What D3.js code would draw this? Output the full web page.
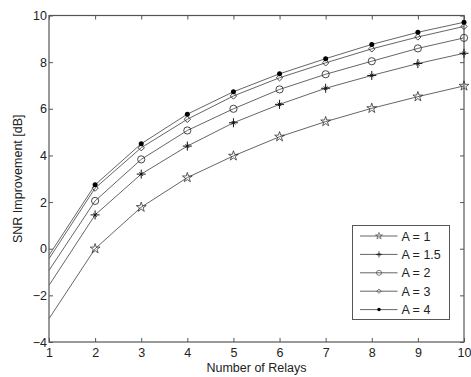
<!DOCTYPE html>
<html>
<head>
<meta charset="utf-8">
<script src="https://cdn.jsdelivr.net/npm/d3@7"></script>
<style>
  body { margin: 0; background: #fff; }
  svg { display: block; font-family: "Liberation Sans", Arial, sans-serif; }
</style>
</head>
<body>
<svg id="chart" width="471" height="377"></svg>
<script>
// number of relays on the x axis
const relays = [1, 2, 3, 4, 5, 6, 7, 8, 9, 10];

// SNR improvement [dB] for each value of A
const snrA1 = [-3.0, 0.0, 1.78, 3.05, 3.98, 4.8, 5.45, 6.02, 6.52, 6.98];
const snrA15 = [-1.57, 1.45, 3.2, 4.4, 5.4, 6.19, 6.88, 7.43, 7.94, 8.38];
const snrA2 = [-0.93, 2.05, 3.83, 5.07, 6.0, 6.83, 7.48, 8.04, 8.59, 9.04];
const snrA3 = [-0.43, 2.6, 4.33, 5.55, 6.55, 7.33, 7.97, 8.57, 9.08, 9.53];
const snrA4 = [-0.28, 2.74, 4.5, 5.77, 6.73, 7.5, 8.15, 8.76, 9.28, 9.71];

const seriesNames = ['A = 1', 'A = 1.5', 'A = 2', 'A = 3', 'A = 4'];
const seriesValues = [snrA1, snrA15, snrA2, snrA3, snrA4];
const markerKinds = ['star', 'plus', 'circle', 'diamond', 'dot'];

const xTicks = [1, 2, 3, 4, 5, 6, 7, 8, 9, 10];
const yTicks = [-4, -2, 0, 2, 4, 6, 8, 10];

const margin = { top: 15.5, right: 7, bottom: 35, left: 49 };
const width = 471;
const height = 377;
const plotW = width - margin.left - margin.right;
const plotH = height - margin.top - margin.bottom;

const axisColor = '#555';
const lineColor = '#666';
const markColor = '#333';

const svg = d3.select('#chart');
const g = svg.append('g').attr('transform', `translate(${margin.left},${margin.top})`);

const x = d3.scaleLinear().domain([1, 10]).range([0, plotW]);
const y = d3.scaleLinear().domain([-4, 10]).range([plotH, 0]);

// matlab style box with inward ticks
const tickLen = 4;
g.append('g')
  .attr('transform', `translate(0,${plotH})`)
  .call(d3.axisBottom(x).tickValues(xTicks).tickSizeInner(-tickLen).tickSizeOuter(0).tickPadding(6))
  .call(a => a.select('.domain').remove());
g.append('g')
  .call(d3.axisLeft(y).tickValues(yTicks).tickSizeInner(-tickLen).tickSizeOuter(0).tickPadding(2))
  .call(a => a.select('.domain').remove());
g.append('g')
  .call(d3.axisTop(x).tickValues(xTicks).tickSizeInner(-tickLen).tickSizeOuter(0).tickFormat(''))
  .call(a => a.select('.domain').remove());
g.append('g')
  .attr('transform', `translate(${plotW},0)`)
  .call(d3.axisRight(y).tickValues(yTicks).tickSizeInner(-tickLen).tickSizeOuter(0).tickFormat(''))
  .call(a => a.select('.domain').remove());

g.selectAll('.tick line').attr('stroke', axisColor);
g.selectAll('.tick text').attr('fill', '#222').style('font-size', '12.5px')
  .style('font-family', '"Liberation Sans", Arial, sans-serif');

g.append('rect')
  .attr('width', plotW).attr('height', plotH)
  .attr('fill', 'none').attr('stroke', axisColor).attr('stroke-width', 1.2);

// markers
function drawMarker(sel, kind) {
  if (kind === 'star') {
    sel.append('path')
      .attr('d', d3.symbol(d3.symbolStar, 30)())
      .attr('fill', 'none').attr('stroke', markColor).attr('stroke-width', 0.8);
  } else if (kind === 'plus') {
    sel.append('path')
      .attr('d', 'M-4.5,0H4.5M0,-4.5V4.5M-1.8,-1.8L1.8,1.8M-1.8,1.8L1.8,-1.8')
      .attr('fill', 'none').attr('stroke', '#111').attr('stroke-width', 1);
  } else if (kind === 'circle') {
    sel.append('circle').attr('r', 3.6)
      .attr('fill', 'none').attr('stroke', markColor).attr('stroke-width', 0.9);
  } else if (kind === 'diamond') {
    sel.append('path').attr('d', 'M0,-3.2L3.2,0L0,3.2L-3.2,0Z')
      .attr('fill', 'none').attr('stroke', markColor).attr('stroke-width', 0.9);
  } else {
    sel.append('circle').attr('r', 2.5).attr('fill', '#000');
  }
}

const line = d3.line().x((d, i) => x(relays[i])).y(d => y(d));

seriesValues.forEach((vals, k) => {
  g.append('path')
    .datum(vals)
    .attr('fill', 'none')
    .attr('stroke', lineColor)
    .attr('stroke-width', 1)
    .attr('d', line);
  // no marker is shown at the first point (1 relay)
  const pts = vals.map((v, i) => ({ n: relays[i], v })).filter(p => p.n > 1);
  g.append('g').selectAll('g')
    .data(pts)
    .join('g')
    .attr('transform', p => `translate(${x(p.n)},${y(p.v)})`)
    .each(function () { drawMarker(d3.select(this), markerKinds[k]); });
});

// axis labels
svg.append('text')
  .attr('x', margin.left + plotW / 2).attr('y', 372)
  .attr('text-anchor', 'middle').attr('fill', '#222').style('font-size', '12.5px')
  .text('Number of Relays');
svg.append('text')
  .attr('transform', `translate(22,${margin.top + plotH / 2}) rotate(-90)`)
  .attr('text-anchor', 'middle').attr('fill', '#222').style('font-size', '12.5px')
  .text('SNR Improvement [dB]');

// legend
const legend = svg.append('g').attr('transform', 'translate(352.5,225.5)');
legend.append('rect')
  .attr('width', 97).attr('height', 94)
  .attr('fill', '#fff').attr('stroke', axisColor).attr('stroke-width', 1);
seriesNames.forEach((name, k) => {
  const row = legend.append('g').attr('transform', `translate(0,${10.5 + k * 18.4})`);
  row.append('line').attr('x1', 7.5).attr('x2', 45).attr('stroke', lineColor).attr('stroke-width', 1);
  const m = row.append('g').attr('transform', 'translate(26.5,0) scale(0.7)');
  drawMarker(m, markerKinds[k]);
  row.append('text').attr('x', 49).attr('y', 4.5)
    .attr('fill', '#222').style('font-size', '12.5px').text(name);
});
</script>
</body>
</html>
